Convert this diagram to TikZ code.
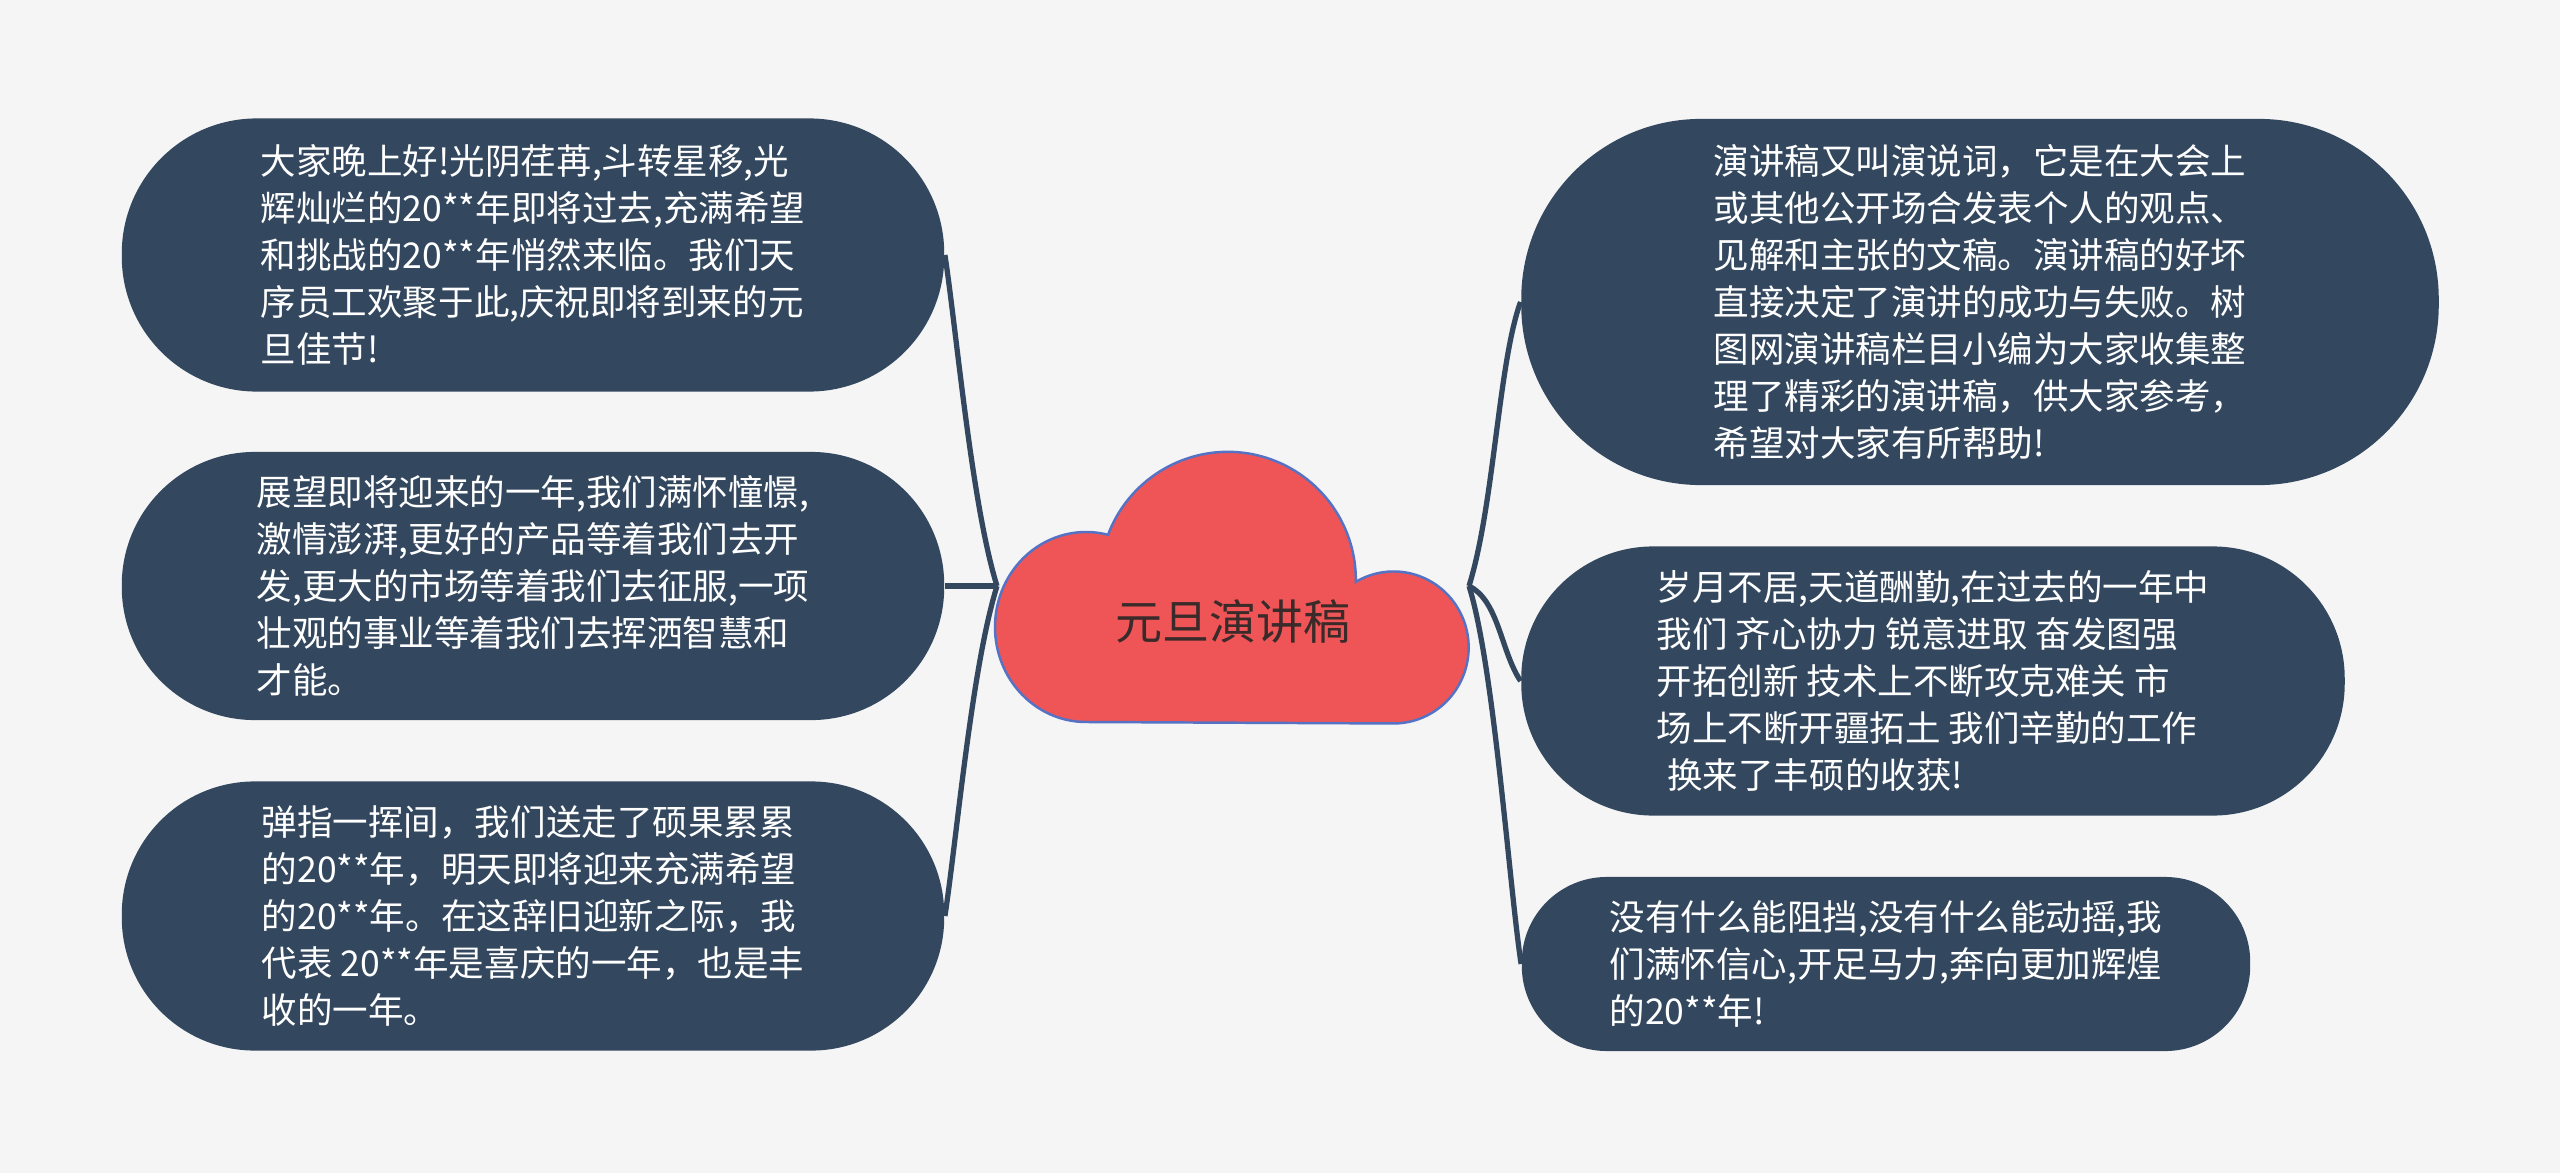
\documentclass[tikz,border=0pt]{standalone}
\usepackage{fontspec}
\setmainfont{Noto Sans CJK SC}
\usepackage{tikz}
\usetikzlibrary{positioning}
\definecolor{bgcolor}{HTML}{F5F5F5}
\definecolor{slate}{HTML}{33485F}
\definecolor{cloudred}{HTML}{EF5556}
\definecolor{cloudline}{HTML}{5572C4}
\definecolor{topictext}{HTML}{3A2A2A}

\begin{document}
\begin{tikzpicture}[x=0.01cm, y=-0.01cm,
    leaf/.style={fill=slate, text=white, inner sep=0pt, align=left,
      font=\fontsize{10.1pt}{13.4pt}\selectfont, rounded corners=#1},
    link/.style={draw=slate, line width=1.5pt}]
  \fill[bgcolor] (0,0) rectangle (2560,1173);
  \useasboundingbox (0,0) rectangle (2560,1173);

  % central cloud
  \draw[fill=cloudred, draw=cloudline, line width=0.7pt]
    (1086,722) arc[start angle=90, end angle=284, x radius=91, y radius=95]
    arc[start angle=200.6, end angle=360.9, radius=128]
    arc[start angle=239.7, end angle=450, x radius=75, y radius=76]
    -- cycle;
  \node[text=topictext, font=\fontsize{13.4pt}{16pt}\selectfont] (topic) at (1233,622) {元旦演讲稿};
  \coordinate (lhub) at (997,586);
  \coordinate (rhub) at (1469,586);

  % left side
  \node[leaf=1.35cm, minimum width=8.22cm, minimum height=2.73cm] (l1) at (533,255) {%
    大家晚上好!光阴荏苒,斗转星移,光\\
    辉灿烂的20**年即将过去,充满希望\\
    和挑战的20**年悄然来临。我们天\\
    序员工欢聚于此,庆祝即将到来的元\\
    旦佳节!};
  \node[leaf=1.33cm, minimum width=8.22cm, minimum height=2.68cm] (l2) at (533,586) {%
    展望即将迎来的一年,我们满怀憧憬,\\
    激情澎湃,更好的产品等着我们去开\\
    发,更大的市场等着我们去征服,一项\\
    壮观的事业等着我们去挥洒智慧和\\
    才能。};
  \node[leaf=1.33cm, minimum width=8.22cm, minimum height=2.69cm] (l3) at (533,916) {%
    弹指一挥间，我们送走了硕果累累\\
    的20**年，明天即将迎来充满希望\\
    的20**年。在这辞旧迎新之际，我\\
    代表 20**年是喜庆的一年，也是丰\\
    收的一年。};

  % right side
  \node[leaf=1.8cm, minimum width=9.17cm, minimum height=3.66cm] (r1) at (1980,302) {%
    演讲稿又叫演说词，它是在大会上\\
    或其他公开场合发表个人的观点、\\
    见解和主张的文稿。演讲稿的好坏\\
    直接决定了演讲的成功与失败。树\\
    图网演讲稿栏目小编为大家收集整\\
    理了精彩的演讲稿，供大家参考，\\
    希望对大家有所帮助!};
  \node[leaf=1.32cm, minimum width=8.23cm, minimum height=2.69cm] (r2) at (1933,681) {%
    岁月不居,天道酬勤,在过去的一年中\\
    我们 齐心协力 锐意进取 奋发图强\\
    开拓创新 技术上不断攻克难关 市\\
    场上不断开疆拓土 我们辛勤的工作\\
    \hspace*{0.3em}换来了丰硕的收获!};
  \node[leaf=0.85cm, minimum width=7.28cm, minimum height=1.74cm] (r3) at (1886,964) {%
    没有什么能阻挡,没有什么能动摇,我\\
    们满怀信心,开足马力,奔向更加辉煌\\
    的20**年!};

  % connectors
  \draw[link] (lhub) .. controls +(-25,-80) and +(12,80) .. (l1.east);
  \draw[link] (lhub) -- (l2.east);
  \draw[link] (lhub) .. controls +(-25,80) and +(12,-80) .. (l3.east);
  \draw[link] (rhub) .. controls +(25,-80) and +(-22,60) .. (r1.west);
  \draw[link] (rhub) .. controls +(30,15) and +(-20,-30) .. (r2.west);
  \draw[link] (rhub) .. controls +(25,80) and +(-12,-80) .. (r3.west);
\end{tikzpicture}
\end{document}
